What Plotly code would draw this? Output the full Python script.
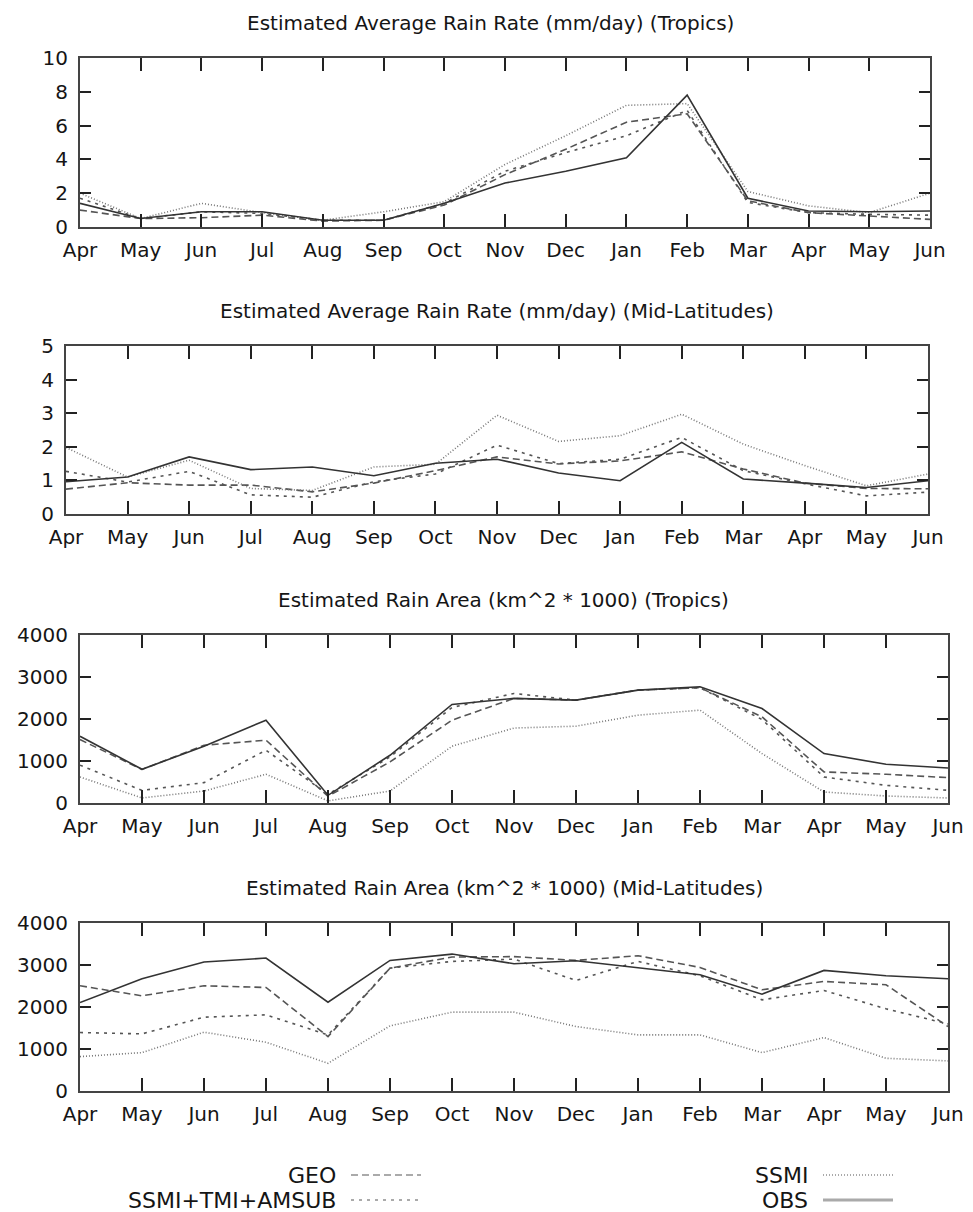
import plotly.graph_objects as go

# ---- data ----
months = ["Apr", "May", "Jun", "Jul", "Aug", "Sep", "Oct", "Nov", "Dec",
          "Jan", "Feb", "Mar", "Apr", "May", "Jun"]
series_names = ["GEO", "SSMI+TMI+AMSUB", "SSMI", "OBS"]

titles = [
    "Estimated Average Rain Rate (mm/day) (Tropics)",
    "Estimated Average Rain Rate (mm/day) (Mid-Latitudes)",
    "Estimated Rain Area (km^2 * 1000) (Tropics)",
    "Estimated Rain Area (km^2 * 1000) (Mid-Latitudes)",
]

rr_trop_geo = [1.0, 0.5, 0.55, 0.7, 0.35, 0.4, 1.3, 3.1, 4.6, 6.2, 6.7, 1.55, 0.85, 0.65, 0.45]
rr_trop_sta = [1.7, 0.5, 0.9, 0.8, 0.4, 0.4, 1.4, 3.3, 4.4, 5.4, 6.9, 1.45, 0.85, 0.75, 0.7]
rr_trop_ssmi = [2.0, 0.5, 1.4, 0.85, 0.4, 0.9, 1.5, 3.7, 5.4, 7.2, 7.3, 2.1, 1.25, 0.85, 2.0]
rr_trop_obs = [1.4, 0.5, 0.9, 0.9, 0.4, 0.4, 1.4, 2.6, 3.3, 4.1, 7.8, 1.7, 0.95, 0.9, 0.95]

rr_mid_geo = [0.74, 0.93, 0.86, 0.86, 0.66, 0.92, 1.29, 1.7, 1.49, 1.58, 1.85, 1.34, 0.92, 0.76, 0.75]
rr_mid_sta = [1.27, 0.95, 1.27, 0.57, 0.5, 0.96, 1.19, 2.05, 1.5, 1.63, 2.28, 1.29, 0.9, 0.54, 0.65]
rr_mid_ssmi = [1.98, 1.1, 1.6, 0.76, 0.7, 1.4, 1.48, 2.94, 2.16, 2.33, 2.97, 2.08, 1.44, 0.84, 1.19]
rr_mid_obs = [0.96, 1.1, 1.7, 1.32, 1.4, 1.14, 1.51, 1.63, 1.22, 0.99, 2.13, 1.04, 0.92, 0.79, 0.99]

area_trop_geo = [1510, 800, 1375, 1495, 160, 978, 1972, 2490, 2450, 2688, 2744, 2052, 740, 684, 604]
area_trop_sta = [900, 300, 485, 1256, 207, 1097, 2275, 2608, 2450, 2688, 2744, 1988, 620, 421, 302]
area_trop_ssmi = [620, 120, 285, 684, 50, 286, 1352, 1785, 1829, 2091, 2211, 1177, 262, 167, 119]
area_trop_obs = [1590, 803, 1350, 1972, 183, 1137, 2346, 2490, 2450, 2688, 2767, 2250, 1177, 922, 835]

area_mid_geo = [2505, 2266, 2505, 2465, 1296, 2926, 3189, 3200, 3109, 3221, 2942, 2410, 2608, 2529, 1535]
area_mid_sta = [1392, 1360, 1757, 1813, 1336, 2926, 3085, 3140, 2632, 3085, 2743, 2171, 2394, 1956, 1598]
area_mid_ssmi = [819, 914, 1400, 1161, 660, 1551, 1877, 1877, 1535, 1336, 1336, 914, 1272, 779, 716]
area_mid_obs = [2107, 2672, 3070, 3165, 2115, 3109, 3260, 3030, 3101, 2926, 2767, 2306, 2871, 2743, 2672]

panels = [
    [rr_trop_geo, rr_trop_sta, rr_trop_ssmi, rr_trop_obs],
    [rr_mid_geo, rr_mid_sta, rr_mid_ssmi, rr_mid_obs],
    [area_trop_geo, area_trop_sta, area_trop_ssmi, area_trop_obs],
    [area_mid_geo, area_mid_sta, area_mid_ssmi, area_mid_obs],
]
y_ranges = [[0, 10], [0, 5], [0, 4000], [0, 4000]]
y_dticks = [2, 1, 1000, 1000]

# ---- layout geometry (page pixels; the page body has an 8px margin) ----
PAGE_W, PAGE_H = 973, 1212
OFF = 8
W, H = PAGE_W - OFF, PAGE_H - OFF


def px_x(x):
    return (x - OFF) / W


def px_y(y):
    return 1 - (y - OFF) / H


FONT = "DejaVu Sans, Liberation Sans, sans-serif"
FS = 20
LEG_FS = 22
TXT = "#151515"
styles = [
    dict(color="#555555", width=1.6, dash="7px,4px"),
    dict(color="#555555", width=1.6, dash="3px,5px"),
    dict(color="#777777", width=1.6, dash="1px,2px"),
    dict(color="#333333", width=1.6, dash="solid"),
]
legend_styles = [
    dict(color="#aaaaaa", width=2, dash="7px,4px"),
    dict(color="#aaaaaa", width=2, dash="3px,5px"),
    dict(color="#aaaaaa", width=2, dash="1px,2px"),
    dict(color="#aaaaaa", width=3, dash="solid"),
]

# plot areas: (left, right, top, bottom) in page pixels
boxes = [(80, 930, 58, 227), (66, 928, 346, 514), (80, 948, 635, 803), (80, 948, 923, 1091)]
title_centers = [(490, 23), (497, 311), (503, 600), (504, 888)]

fig = go.Figure()
x_idx = list(range(len(months)))

for p, (data, box) in enumerate(zip(panels, boxes)):
    sfx = "" if p == 0 else str(p + 1)
    for s, vals in enumerate(data):
        fig.add_trace(go.Scatter(
            x=x_idx, y=vals, mode="lines", name=series_names[s],
            line=styles[s], showlegend=False,
            xaxis="x" + sfx, yaxis="y" + sfx,
        ))
    l, r, t, b = box
    axis_common = dict(
        showline=True, linecolor="#444444", linewidth=2, mirror="allticks",
        ticks="inside", tickcolor="#222222", tickwidth=1.5,
        showgrid=False, zeroline=False, automargin=False,
        tickfont=dict(family=FONT, size=FS, color=TXT),
    )
    fig.update_layout(**{
        "xaxis" + sfx: dict(
            domain=[px_x(l), px_x(r)], anchor="y" + sfx,
            range=[0, len(months) - 1],
            tickmode="array", tickvals=x_idx, ticktext=months,
            ticklen=13, ticklabelstandoff=4, **axis_common,
        ),
        "yaxis" + sfx: dict(
            domain=[px_y(b), px_y(t)], anchor="x" + sfx,
            range=y_ranges[p], dtick=y_dticks[p], tick0=0,
            ticklen=11, ticklabelstandoff=6, **axis_common,
        ),
    })
    cx, cy = title_centers[p]
    fig.add_annotation(
        text=titles[p], x=px_x(cx), y=px_y(cy), xref="paper", yref="paper",
        xanchor="center", yanchor="middle", showarrow=False,
        font=dict(family=FONT, size=FS, color=TXT),
    )

# ---- legend (gnuplot style: text right-aligned, then sample) ----
legend_pos = [(338, 1175), (338, 1200), (810, 1175), (810, 1200)]
for s, (tx, ty) in enumerate(legend_pos):
    fig.add_annotation(
        text=series_names[s], x=px_x(tx), y=px_y(ty), xref="paper", yref="paper",
        xanchor="right", yanchor="middle", showarrow=False,
        font=dict(family=FONT, size=LEG_FS, color=TXT),
    )
    fig.add_shape(
        type="line", xref="paper", yref="paper",
        x0=px_x(tx + 13), x1=px_x(tx + 83), y0=px_y(ty), y1=px_y(ty),
        line=legend_styles[s],
    )

fig.update_layout(
    template="none",
    width=W, height=H, autosize=False,
    margin=dict(l=0, r=0, t=0, b=0, pad=0),
    paper_bgcolor="white", plot_bgcolor="white",
    showlegend=False,
    font=dict(family=FONT, size=FS, color=TXT),
)

fig.write_html("out.html")
